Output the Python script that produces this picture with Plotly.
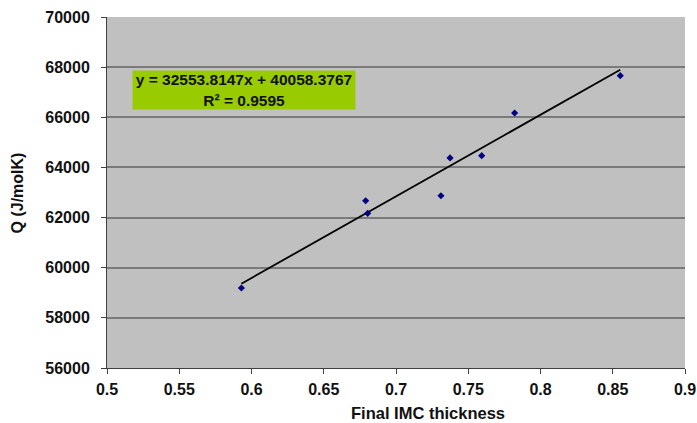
import plotly.graph_objects as go

# Data
imc_thickness = [0.593, 0.679, 0.6804, 0.7311, 0.7374, 0.7593, 0.7821, 0.8552]
q_values = [59190, 62670, 62170, 62870, 64380, 64470, 66170, 67660]

# Trendline coefficients (as printed on the chart)
slope = 32553.8147
intercept = 40058.3767
r_squared = 0.9595

x_ticks = [0.5, 0.55, 0.6, 0.65, 0.7, 0.75, 0.8, 0.85, 0.9]
y_ticks = [56000, 58000, 60000, 62000, 64000, 66000, 68000, 70000]

x_title = "Final IMC thickness"
y_title = "Q (J/molK)"

x_line = [min(imc_thickness), max(imc_thickness)]
y_line = [slope * v + intercept for v in x_line]

FONT = "Liberation Sans, Arial, sans-serif"

fig = go.Figure()
fig.add_trace(go.Scatter(
    x=x_line, y=y_line, mode="lines",
    line=dict(color="#000000", width=1.8),
    showlegend=False, hoverinfo="skip",
))
fig.add_trace(go.Scatter(
    x=imc_thickness, y=q_values, mode="markers",
    marker=dict(symbol="diamond", size=5.5, color="#000080"),
    showlegend=False,
))

fig.add_annotation(
    xref="paper", yref="paper", x=0.237, y=0.792,
    xanchor="center", yanchor="middle",
    text=f"<b>y = {slope:.4f}x + {intercept:.4f}</b><br><b>R² = {r_squared}</b>",
    showarrow=False, align="center",
    font=dict(family=FONT, size=15.5, color="#111111"),
    bgcolor="#99CC00", width=222, height=38, borderpad=0,
)
# Axis titles
fig.add_annotation(
    xref="paper", yref="paper", x=0.555, y=-0.128,
    xanchor="center", yanchor="middle", showarrow=False,
    text=f"<b>{x_title}</b>",
    font=dict(family=FONT, size=16.5, color="#111111"),
)
fig.add_annotation(
    xref="paper", yref="paper", x=-0.154, y=0.5,
    xanchor="center", yanchor="middle", showarrow=False,
    textangle=-90,
    text=f"<b>{y_title}</b>",
    font=dict(family=FONT, size=16, color="#111111"),
)

fig.update_layout(
    width=697, height=423,
    margin=dict(l=107, r=12, t=17, b=55),
    paper_bgcolor="white",
    plot_bgcolor="#C0C0C0",
    font=dict(family=FONT, size=16, color="#000000"),
)

fig.update_xaxes(
    range=[0.5, 0.9], tickvals=x_ticks,
    ticktext=[f"{v:g}" for v in x_ticks],
    showgrid=False, zeroline=False, automargin=False,
    showline=True, linecolor="#404040", linewidth=1,
    ticks="outside", ticklen=5, tickcolor="#404040",
    ticklabelstandoff=2,
    tickfont=dict(family=FONT, size=16, color="#111111", weight="bold"),
)
fig.update_yaxes(
    range=[56000, 70000], tickvals=y_ticks,
    ticktext=[str(v) for v in y_ticks],
    showgrid=True, gridcolor="#7a7a7a", gridwidth=1.5,
    zeroline=False, automargin=False,
    showline=True, linecolor="#404040", linewidth=1,
    ticks="outside", ticklen=5, tickcolor="#404040",
    ticklabelstandoff=8,
    tickfont=dict(family=FONT, size=16, color="#111111", weight="bold"),
)

fig.write_html(
    "out.html",
    config={"displayModeBar": False},
    post_script="document.body.style.margin='0';document.body.style.padding='0';",
)
